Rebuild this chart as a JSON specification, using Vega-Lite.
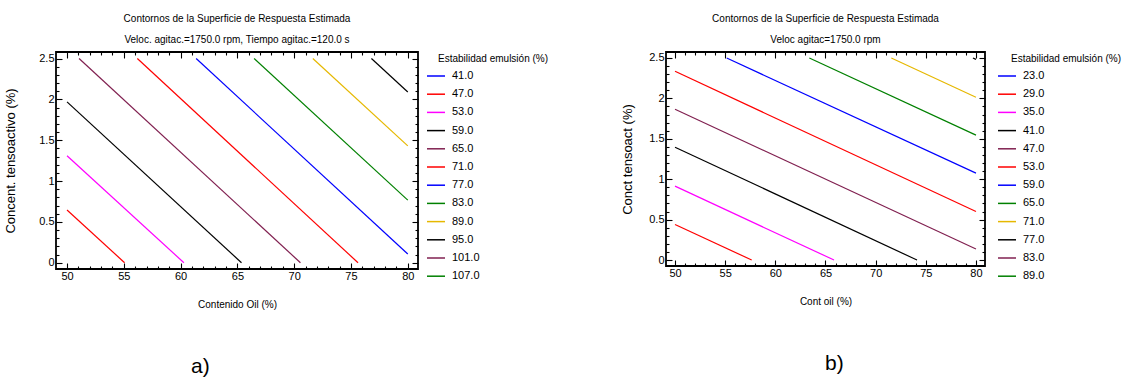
{
  "$schema": "https://vega.github.io/schema/vega-lite/v6.json",
  "background": "white",
  "padding": {"left": 3, "top": 13, "right": 0, "bottom": 0},
  "datasets": {
    "a": [
      {"level": "47.0", "x": 50, "y": 0.645}, {"level": "47.0", "x": 55.07, "y": 0},
      {"level": "53.0", "x": 50, "y": 1.31}, {"level": "53.0", "x": 60.29, "y": 0},
      {"level": "59.0", "x": 50, "y": 1.97}, {"level": "59.0", "x": 65.36, "y": 0},
      {"level": "65.0", "x": 51.06, "y": 2.5}, {"level": "65.0", "x": 70.55, "y": 0},
      {"level": "71.0", "x": 56.19, "y": 2.5}, {"level": "71.0", "x": 75.62, "y": 0},
      {"level": "77.0", "x": 61.37, "y": 2.5}, {"level": "77.0", "x": 80, "y": 0.107},
      {"level": "83.0", "x": 66.47, "y": 2.5}, {"level": "83.0", "x": 80, "y": 0.767},
      {"level": "89.0", "x": 71.64, "y": 2.5}, {"level": "89.0", "x": 80, "y": 1.43},
      {"level": "95.0", "x": 76.8, "y": 2.5}, {"level": "95.0", "x": 80, "y": 2.09}
    ],
    "b": [
      {"level": "29.0", "x": 50, "y": 0.44}, {"level": "29.0", "x": 57.64, "y": 0},
      {"level": "35.0", "x": 50, "y": 0.914}, {"level": "35.0", "x": 65.85, "y": 0},
      {"level": "41.0", "x": 50, "y": 1.396}, {"level": "41.0", "x": 74.12, "y": 0},
      {"level": "47.0", "x": 50, "y": 1.866}, {"level": "47.0", "x": 80, "y": 0.136},
      {"level": "53.0", "x": 50, "y": 2.335}, {"level": "53.0", "x": 80, "y": 0.6},
      {"level": "59.0", "x": 55.15, "y": 2.5}, {"level": "59.0", "x": 80, "y": 1.075},
      {"level": "65.0", "x": 63.39, "y": 2.5}, {"level": "65.0", "x": 80, "y": 1.545},
      {"level": "71.0", "x": 71.56, "y": 2.5}, {"level": "71.0", "x": 80, "y": 2.014},
      {"level": "77.0", "x": 79.7, "y": 2.5}, {"level": "77.0", "x": 80, "y": 2.483}
    ]
  },
  "config": {
    "font": "Liberation Sans",
    "view": {"stroke": "black", "strokeWidth": 1.8},
    "axis": {
      "domain": false, "grid": false, "tickColor": "black", "tickWidth": 1.1,
      "labelFont": "Liberation Sans", "labelFontSize": 11, "labelColor": "black", "format": "~g",
      "titleFont": "Liberation Sans", "titleFontSize": 10, "titleFontWeight": "normal", "titleColor": "black"
    },
    "axisY": {"titleFont": "Liberation Sans", "titleFontSize": 13},
    "legend": {
      "titleFont": "Liberation Sans", "titleFontSize": 10, "titleFontWeight": "normal", "titleColor": "black",
      "labelFont": "Liberation Sans", "labelFontSize": 11, "labelColor": "black",
      "symbolType": "stroke", "symbolSize": 324, "symbolStrokeWidth": 1.5,
      "labelOffset": 6, "rowPadding": 3.2, "titlePadding": 4, "padding": 0
    },
    "title": {
      "font": "Liberation Sans", "fontSize": 10, "fontWeight": "normal", "color": "black",
      "subtitleFont": "Liberation Sans", "subtitleFontSize": 10, "subtitleColor": "black"
    },
    "concat": {"spacing": 71}
  },
  "resolve": {"scale": {"color": "independent"}, "legend": {"color": "independent"}},
  "hconcat": [
    {
      "title": {"text": "a)", "orient": "bottom", "anchor": "middle", "font": "Liberation Sans", "fontSize": 21, "dx": -76, "offset": 46},
      "vconcat": [
        {
          "width": 362, "height": 217,
          "title": {"text": "Contornos de la Superficie de Respuesta Estimada", "subtitle": "Veloc. agitac.=1750.0 rpm, Tiempo agitac.=120.0 s", "anchor": "middle", "offset": 6, "subtitlePadding": 11},
          "data": {"name": "a"},
          "layer": [
            {
              "mark": {"type": "line", "strokeWidth": 1.2},
              "encoding": {
                "x": {"field": "x", "type": "quantitative", "scale": {"domain": [49.03, 80.9], "nice": false, "zero": false},
                  "axis": {"orient": "bottom", "values": [50, 55, 60, 65, 70, 75, 80], "tickSize": -6, "labelPadding": 7, "title": "Contenido Oil (%)", "titlePadding": 18}},
                "y": {"field": "y", "type": "quantitative", "scale": {"domain": [-0.077, 2.58], "nice": false, "zero": false},
                  "axis": {"orient": "left", "values": [0, 0.5, 1, 1.5, 2, 2.5], "tickSize": -6, "labelPadding": 8, "title": "Concent. tensoactivo (%)", "titlePadding": 21}},
                "color": {"field": "level", "type": "nominal",
                  "scale": {"domain": ["41.0", "47.0", "53.0", "59.0", "65.0", "71.0", "77.0", "83.0", "89.0", "95.0", "101.0", "107.0"],
                    "range": ["#0000ff", "#ff0000", "#ff00ff", "#000000", "#802050", "#ff0000", "#0000ff", "#008000", "#e6b800", "#000000", "#802050", "#008000"]},
                  "legend": {"title": "Estabilidad emulsión (%)", "offset": 6, "encode": {"title": {"update": {"dx": {"value": 12}, "dy": {"value": 2}}}}}}
              }
            },
            {
              "mark": {"type": "point", "opacity": 0},
              "encoding": {
                "x": {"field": "x", "type": "quantitative", "scale": {"domain": [49.03, 80.9], "nice": false, "zero": false},
                  "axis": {"orient": "top", "values": [50, 55, 60, 65, 70, 75, 80], "tickSize": -6, "labels": false, "title": null}},
                "y": {"field": "y", "type": "quantitative", "scale": {"domain": [-0.077, 2.58], "nice": false, "zero": false},
                  "axis": {"orient": "right", "values": [0, 0.5, 1, 1.5, 2, 2.5], "tickSize": -6, "labels": false, "title": null}}
              }
            },
            {
              "mark": {"type": "point", "opacity": 0},
              "encoding": {
                "x": {"field": "x", "type": "quantitative", "scale": {"domain": [49.03, 80.9], "nice": false, "zero": false},
                  "axis": {"orient": "bottom", "values": [51, 52, 53, 54, 56, 57, 58, 59, 61, 62, 63, 64, 66, 67, 68, 69, 71, 72, 73, 74, 76, 77, 78, 79], "tickSize": -3, "labels": false, "title": null}},
                "y": {"field": "y", "type": "quantitative", "scale": {"domain": [-0.077, 2.58], "nice": false, "zero": false},
                  "axis": {"orient": "left", "values": [0.1, 0.2, 0.3, 0.4, 0.6, 0.7, 0.8, 0.9, 1.1, 1.2, 1.3, 1.4, 1.6, 1.7, 1.8, 1.9, 2.1, 2.2, 2.3, 2.4], "tickSize": -3, "labels": false, "title": null}}
              }
            },
            {
              "mark": {"type": "point", "opacity": 0},
              "encoding": {
                "x": {"field": "x", "type": "quantitative", "scale": {"domain": [49.03, 80.9], "nice": false, "zero": false},
                  "axis": {"orient": "top", "values": [51, 52, 53, 54, 56, 57, 58, 59, 61, 62, 63, 64, 66, 67, 68, 69, 71, 72, 73, 74, 76, 77, 78, 79], "tickSize": -3, "labels": false, "title": null}},
                "y": {"field": "y", "type": "quantitative", "scale": {"domain": [-0.077, 2.58], "nice": false, "zero": false},
                  "axis": {"orient": "right", "values": [0.1, 0.2, 0.3, 0.4, 0.6, 0.7, 0.8, 0.9, 1.1, 1.2, 1.3, 1.4, 1.6, 1.7, 1.8, 1.9, 2.1, 2.2, 2.3, 2.4], "tickSize": -3, "labels": false, "title": null}}
              }
            }
          ],
          "resolve": {"axis": {"x": "independent", "y": "independent"}}
        }
      ]
    },
    {
      "title": {"text": "b)", "orient": "bottom", "anchor": "middle", "font": "Liberation Sans", "fontSize": 21, "dx": -37, "offset": 46},
      "vconcat": [
        {
          "width": 319, "height": 214,
          "title": {"text": "Contornos de la Superficie de Respuesta Estimada", "subtitle": "Veloc agitac=1750.0 rpm", "anchor": "middle", "offset": 6, "subtitlePadding": 11},
          "data": {"name": "b"},
          "layer": [
            {
              "mark": {"type": "line", "strokeWidth": 1.2},
              "encoding": {
                "x": {"field": "x", "type": "quantitative", "scale": {"domain": [49.1, 80.9], "nice": false, "zero": false},
                  "axis": {"orient": "bottom", "values": [50, 55, 60, 65, 70, 75, 80], "tickSize": -6, "labelPadding": 7, "title": "Cont oil (%)", "titlePadding": 18}},
                "y": {"field": "y", "type": "quantitative", "scale": {"domain": [-0.074, 2.574], "nice": false, "zero": false},
                  "axis": {"orient": "left", "values": [0, 0.5, 1, 1.5, 2, 2.5], "tickSize": -6, "labelPadding": 8, "title": "Conct tensoact (%)", "titlePadding": 14}},
                "color": {"field": "level", "type": "nominal",
                  "scale": {"domain": ["23.0", "29.0", "35.0", "41.0", "47.0", "53.0", "59.0", "65.0", "71.0", "77.0", "83.0", "89.0"],
                    "range": ["#0000ff", "#ff0000", "#ff00ff", "#000000", "#802050", "#ff0000", "#0000ff", "#008000", "#e6b800", "#000000", "#802050", "#008000"]},
                  "legend": {"title": "Estabilidad emulsión (%)", "offset": 10, "encode": {"title": {"update": {"dx": {"value": 14}, "dy": {"value": 2}}}}}}
              }
            },
            {
              "mark": {"type": "point", "opacity": 0},
              "encoding": {
                "x": {"field": "x", "type": "quantitative", "scale": {"domain": [49.1, 80.9], "nice": false, "zero": false},
                  "axis": {"orient": "top", "values": [50, 55, 60, 65, 70, 75, 80], "tickSize": -6, "labels": false, "title": null}},
                "y": {"field": "y", "type": "quantitative", "scale": {"domain": [-0.074, 2.574], "nice": false, "zero": false},
                  "axis": {"orient": "right", "values": [0, 0.5, 1, 1.5, 2, 2.5], "tickSize": -6, "labels": false, "title": null}}
              }
            },
            {
              "mark": {"type": "point", "opacity": 0},
              "encoding": {
                "x": {"field": "x", "type": "quantitative", "scale": {"domain": [49.1, 80.9], "nice": false, "zero": false},
                  "axis": {"orient": "bottom", "values": [51, 52, 53, 54, 56, 57, 58, 59, 61, 62, 63, 64, 66, 67, 68, 69, 71, 72, 73, 74, 76, 77, 78, 79], "tickSize": -3, "labels": false, "title": null}},
                "y": {"field": "y", "type": "quantitative", "scale": {"domain": [-0.074, 2.574], "nice": false, "zero": false},
                  "axis": {"orient": "left", "values": [0.1, 0.2, 0.3, 0.4, 0.6, 0.7, 0.8, 0.9, 1.1, 1.2, 1.3, 1.4, 1.6, 1.7, 1.8, 1.9, 2.1, 2.2, 2.3, 2.4], "tickSize": -3, "labels": false, "title": null}}
              }
            },
            {
              "mark": {"type": "point", "opacity": 0},
              "encoding": {
                "x": {"field": "x", "type": "quantitative", "scale": {"domain": [49.1, 80.9], "nice": false, "zero": false},
                  "axis": {"orient": "top", "values": [51, 52, 53, 54, 56, 57, 58, 59, 61, 62, 63, 64, 66, 67, 68, 69, 71, 72, 73, 74, 76, 77, 78, 79], "tickSize": -3, "labels": false, "title": null}},
                "y": {"field": "y", "type": "quantitative", "scale": {"domain": [-0.074, 2.574], "nice": false, "zero": false},
                  "axis": {"orient": "right", "values": [0.1, 0.2, 0.3, 0.4, 0.6, 0.7, 0.8, 0.9, 1.1, 1.2, 1.3, 1.4, 1.6, 1.7, 1.8, 1.9, 2.1, 2.2, 2.3, 2.4], "tickSize": -3, "labels": false, "title": null}}
              }
            }
          ],
          "resolve": {"axis": {"x": "independent", "y": "independent"}}
        }
      ]
    }
  ]
}
